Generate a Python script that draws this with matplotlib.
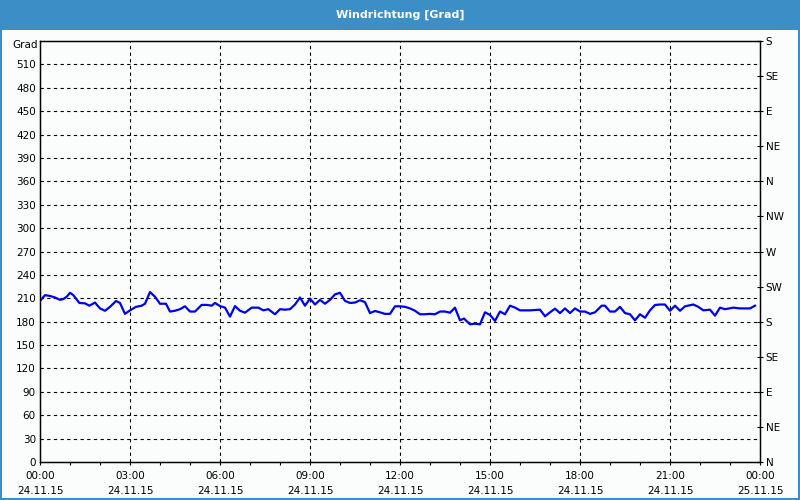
import matplotlib
matplotlib.use("Agg")
import matplotlib.pyplot as plt
from matplotlib.patches import Rectangle

# time in hours since 24.11.15 00:00, wind direction in degrees
hours = [0.0, 0.167, 0.333, 0.5, 0.667, 0.778, 0.889, 1.0, 1.111, 1.311, 1.5, 1.644,
         1.833, 2.0, 2.167, 2.333, 2.533, 2.667, 2.833, 3.0, 3.2, 3.389, 3.5, 3.667,
         3.833, 4.0, 4.2, 4.333, 4.5, 4.667, 4.833, 5.0, 5.167, 5.389, 5.556, 5.722,
         5.833, 6.0, 6.167, 6.333, 6.5, 6.667, 6.833, 7.056, 7.278, 7.444, 7.611,
         7.833, 8.0, 8.167, 8.333, 8.5, 8.667, 8.833, 9.0, 9.167, 9.333, 9.5, 9.667,
         9.833, 10.0, 10.167, 10.333, 10.5, 10.667, 10.833, 11.0, 11.167, 11.333,
         11.5, 11.667, 11.833, 12.0, 12.167, 12.333, 12.5, 12.667, 12.833, 13.0,
         13.167, 13.333, 13.5, 13.667, 13.833, 14.0, 14.133, 14.333, 14.5, 14.667,
         14.833, 15.0, 15.167, 15.333, 15.5, 15.667, 15.833, 16.0, 16.333, 16.667,
         16.833, 17.0, 17.167, 17.333, 17.5, 17.667, 17.833, 18.0, 18.167, 18.333,
         18.5, 18.722, 18.833, 19.0, 19.167, 19.333, 19.5, 19.667, 19.833, 20.0,
         20.167, 20.333, 20.5, 20.667, 20.833, 21.0, 21.167, 21.333, 21.5, 21.778,
         21.944, 22.111, 22.333, 22.5, 22.667, 22.833, 23.111, 23.333, 23.667, 23.833]
direction = [206.6, 214, 213, 211, 208, 209, 212, 217, 214, 204, 203.5, 200.5,
             204.5, 197, 194, 199, 206.5, 204, 190, 194.5, 199, 200.5, 203, 218,
             212, 203, 203, 193, 194, 196, 199.7, 193, 193, 201.5, 201.5, 200.5,
             204, 200, 198, 186.5, 200, 194, 191.5, 198, 198, 194.5, 196,
             189.5, 196, 195.4, 196, 202, 211, 200.5, 209.6, 202, 208, 203, 208,
             215, 217, 206.6, 204, 204.5, 207.5, 205, 191, 193.7, 192,
             190, 190, 199.7, 199.7, 199, 197, 194, 189.5, 189.5, 190,
             189.5, 193, 193, 191.5, 198, 181.7, 184, 176.6, 177.4, 176.6,
             192, 188.6, 181, 193, 189.5, 200.5, 198, 194.5, 194.5, 195.4,
             186.9, 192, 196.7, 191, 197, 191, 197, 193, 193, 190,
             192, 200.5, 200.5, 193, 193, 199, 191, 189.5, 181.7, 189.5,
             185, 194.5, 201.4, 202, 202, 194, 200.5, 194, 199.7, 202,
             199, 194.5, 195.4, 187.7, 198, 196, 198, 197, 197, 200.5]

x_ticks = [0, 3, 6, 9, 12, 15, 18, 21, 24]
x_labels = ["00:00\n24.11.15", "03:00\n24.11.15", "06:00\n24.11.15", "09:00\n24.11.15",
            "12:00\n24.11.15", "15:00\n24.11.15", "18:00\n24.11.15", "21:00\n24.11.15",
            "00:00\n25.11.15"]
y_ticks = list(range(0, 540, 30))
compass_ticks = list(range(0, 541, 45))
compass_labels = ["N", "NE", "E", "SE", "S", "SW", "W", "NW", "N", "NE", "E", "SE", "S"]

bg = "#fafdfb"
bar_blue = "#3c8fc6"

fig = plt.figure(figsize=(8, 5), dpi=100, facecolor=bg)

# title bar and border
fig.patches.append(Rectangle((0, 0.94), 1, 0.06, transform=fig.transFigure,
                             facecolor=bar_blue, edgecolor="none", zorder=0))
fig.patches.append(Rectangle((0.001, 0.002), 0.998, 0.996, transform=fig.transFigure,
                             facecolor="none", edgecolor=bar_blue, linewidth=1.5, zorder=5))
fig.text(0.5, 0.97, "Windrichtung [Grad]", color="white", fontsize=8, fontweight="bold",
         ha="center", va="center")

ax = fig.add_axes([0.05, 0.076, 0.9, 0.842], facecolor=bg)
ax.plot(hours, direction, color="#0000ee", linewidth=1.6, zorder=3)

ax.set_xlim(0, 24)
ax.set_ylim(0, 540)
ax.set_xticks(x_ticks)
ax.set_xticklabels(x_labels, fontsize=7.5, linespacing=1.65)
ax.set_xticks(range(25), minor=True)
ax.set_yticks(y_ticks)
ax.set_yticklabels([str(v) for v in y_ticks], fontsize=7.5)
ax.tick_params(axis="x", which="both", direction="out", length=2.5, width=0.8, pad=4)
ax.tick_params(axis="y", length=0, pad=3)

for v in y_ticks[1:]:
    ax.axhline(v, color="black", linestyle=(0, (3, 3)), linewidth=0.8, zorder=1)
for v in x_ticks[1:-1]:
    ax.axvline(v, color="black", linestyle=(0, (3, 3)), linewidth=0.8, zorder=1)

for s in ax.spines.values():
    s.set_linewidth(1.0)
    s.set_color("black")

ax.text(-0.003, 535, "Grad", transform=ax.get_yaxis_transform(), fontsize=7.5,
        ha="right", va="center")

ax2 = ax.twinx()
ax2.set_ylim(0, 540)
ax2.set_yticks(compass_ticks)
ax2.set_yticklabels(compass_labels, fontsize=7.5)
ax2.tick_params(axis="y", direction="inout", length=4, width=0.8, pad=2)

fig.savefig("out.png", dpi=100, facecolor=bg)
